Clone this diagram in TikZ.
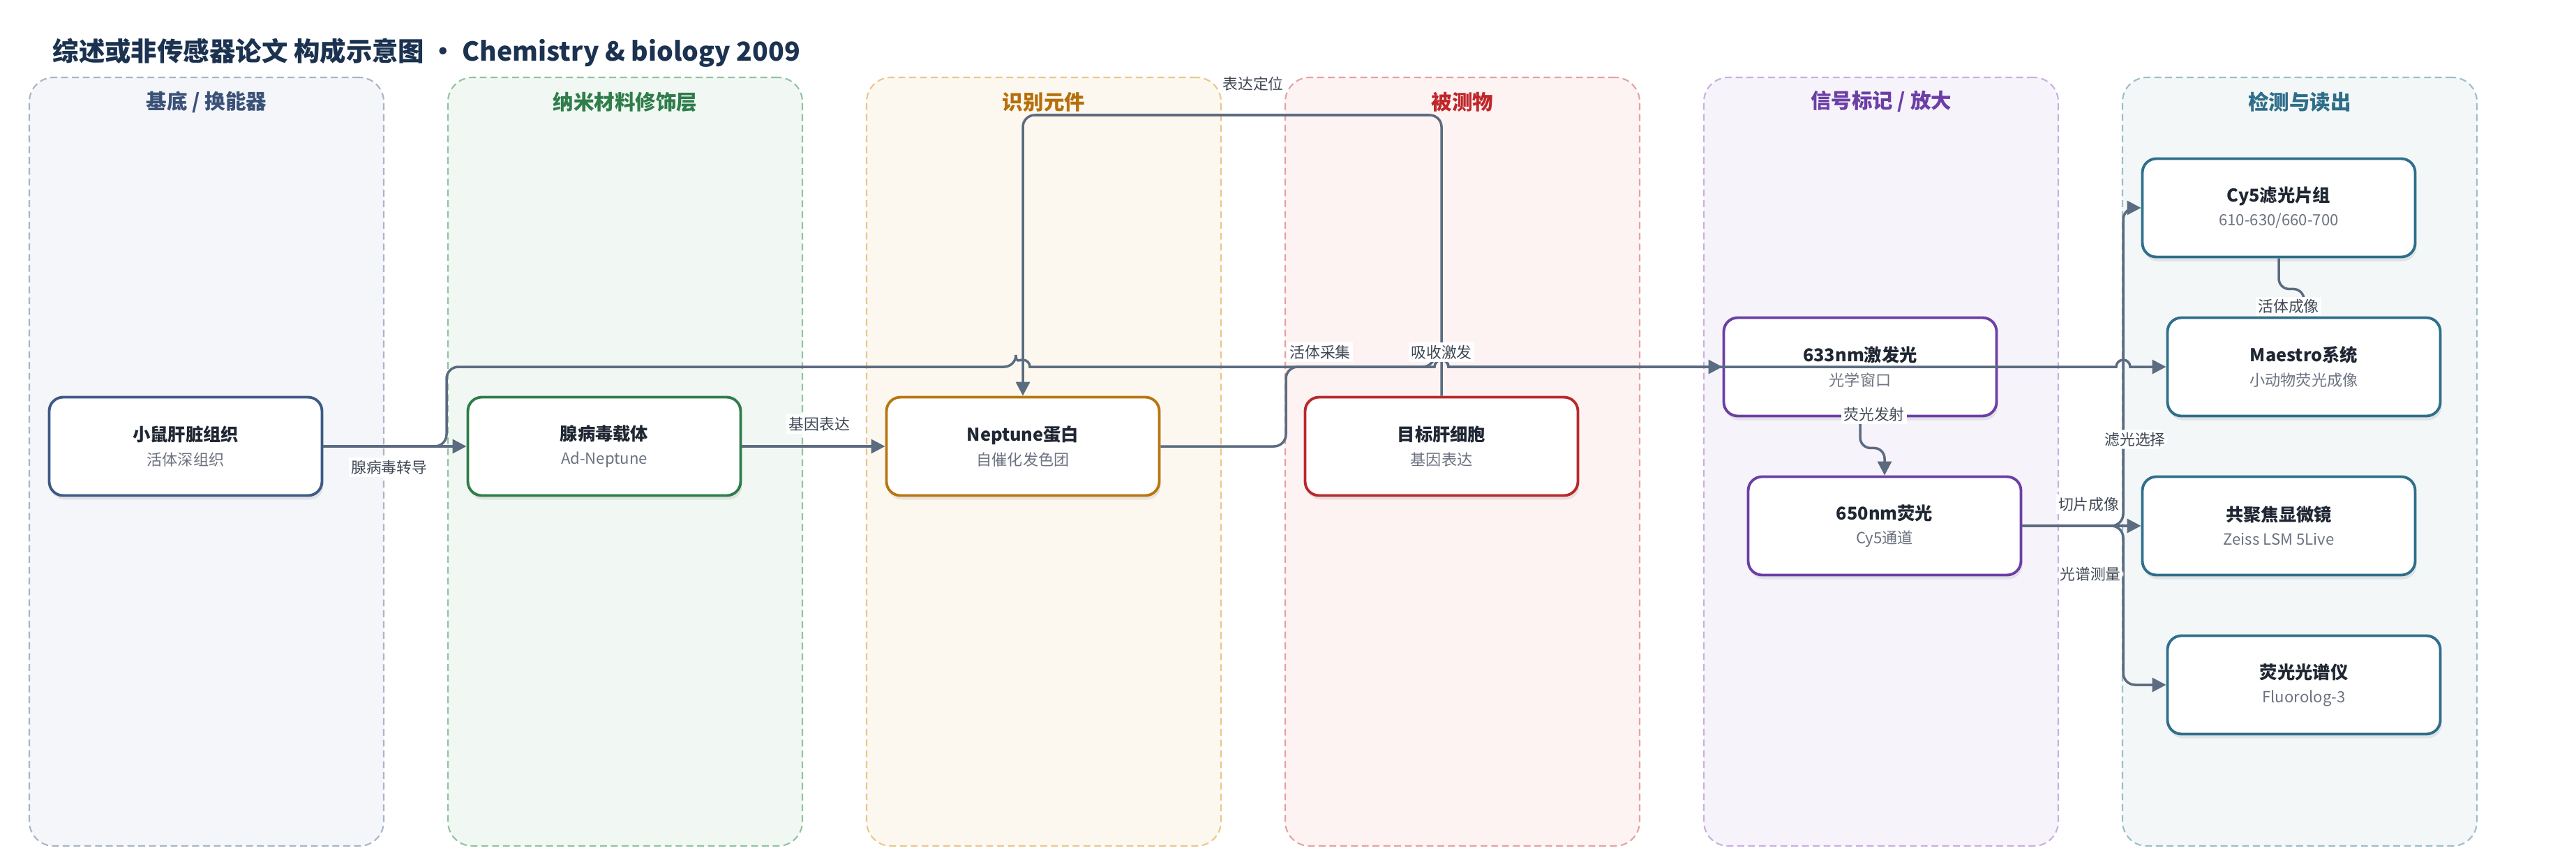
\documentclass[tikz,border=0pt]{standalone}
\usepackage{fontspec}
\setmainfont{Noto Sans CJK SC}
\usepackage{xcolor}
\usepackage{tikz}
\usetikzlibrary{positioning,calc,arrows.meta,shadows}

\definecolor{TitleNavy}{HTML}{1B3250}
\definecolor{InkMain}{HTML}{1F2733}
\definecolor{SubGray}{HTML}{6B7280}
\definecolor{LabelGray}{HTML}{3F4754}
\definecolor{FlowGray}{HTML}{5B6B80}
% mau cac cot
\definecolor{BaseFill}{HTML}{F4F6FA}\definecolor{BaseLine}{HTML}{A9B5C7}\definecolor{BaseText}{HTML}{3B5278}\definecolor{BaseEdge}{HTML}{3D5A85}
\definecolor{NanoFill}{HTML}{F1F8F3}\definecolor{NanoLine}{HTML}{92C3A2}\definecolor{NanoText}{HTML}{2F7D4B}\definecolor{NanoEdge}{HTML}{2E7D4A}
\definecolor{RecFill}{HTML}{FDF8EF}\definecolor{RecLine}{HTML}{E9C78E}\definecolor{RecText}{HTML}{B66F0B}\definecolor{RecEdge}{HTML}{B87612}
\definecolor{AnaFill}{HTML}{FDF3F2}\definecolor{AnaLine}{HTML}{E6A2A2}\definecolor{AnaText}{HTML}{BF272B}\definecolor{AnaEdge}{HTML}{B8292B}
\definecolor{SigFill}{HTML}{F7F3FB}\definecolor{SigLine}{HTML}{C8B0E0}\definecolor{SigText}{HTML}{6B3FA6}\definecolor{SigEdge}{HTML}{6C3FA6}
\definecolor{DetFill}{HTML}{F3F7F8}\definecolor{DetLine}{HTML}{9CBECB}\definecolor{DetText}{HTML}{2E6E89}\definecolor{DetEdge}{HTML}{2F6F8B}

\newcommand{\stagetext}[2]{\textbf{#1}\\{\fontsize{6.3}{9.7}\selectfont\color{SubGray}#2}}

\tikzset{
    stagebox/.style={rectangle, rounded corners=0.2cm, draw, fill=white, line width=1.1pt,
        minimum width=3.91cm, minimum height=1.41cm, inner sep=2pt, align=center,
        text=InkMain, font=\fontsize{7.2}{9.7}\selectfont,
        drop shadow={shadow xshift=0.02cm, shadow yshift=-0.06cm, opacity=0.16}},
    flow/.style={draw=FlowGray, line width=1pt, -{Triangle[length=0.2cm, width=0.2cm]}},
    flowlabel/.style={fill=white, inner sep=1pt, text=LabelGray, font=\fontsize{6.2}{7}\selectfont}
}

\begin{document}
\begin{tikzpicture}[
        % --- STYLE COT ---
        panel/.style={
            rectangle,
            rounded corners=0.35cm,
            line width=0.6pt,
            dash pattern=on 2.8pt off 1.6pt,
            minimum width=5.08cm,
            minimum height=11.02cm,
            inner sep=0pt
        },
        % tieu de cot
        paneltitle/.style={
            font=\fontsize{8.4}{10}\selectfont\bfseries
        }
    ]
    \useasboundingbox (0,0) rectangle (36.92,-12.35);

    % --- TIEU DE ---
    \node[anchor=west, inner sep=0pt, text=TitleNavy, font=\fontsize{10.65}{13}\selectfont\bfseries] (title)
        at (0.75,-0.76) {综述或非传感器论文 构成示意图 • Chemistry \& biology 2009};

    % --- CAC COT ---
    \foreach \i/\pc/\ptitle in {0/Base/{基底 / 换能器}, 1/Nano/纳米材料修饰层, 2/Rec/识别元件,
                                3/Ana/被测物, 4/Sig/{信号标记 / 放大}, 5/Det/检测与读出} {
        \node[panel, fill=\pc Fill, draw=\pc Line] (panel\i) at (2.96+6*\i,-6.62) {};
        \node[paneltitle, text=\pc Text] (ptitle\i) at (2.96+6*\i,-1.46) {\ptitle};
    }

    % --- CAC NUT ---
    \node[stagebox, draw=BaseEdge] (mouse) at (2.66,-6.40) {\stagetext{小鼠肝脏组织}{活体深组织}};
    \node[stagebox, draw=NanoEdge] (vector) at (8.66,-6.40) {\stagetext{腺病毒载体}{Ad-Neptune}};
    \node[stagebox, draw=RecEdge] (neptune) at (14.66,-6.40) {\stagetext{Neptune蛋白}{自催化发色团}};
    \node[stagebox, draw=AnaEdge] (target) at (20.66,-6.40) {\stagetext{目标肝细胞}{基因表达}};
    \node[stagebox, draw=SigEdge] (ex633) at (26.66,-5.26) {\stagetext{633nm激发光}{光学窗口}};
    \node[stagebox, draw=SigEdge] (fl650) at (27.01,-7.54) {\stagetext{650nm荧光}{Cy5通道}};
    \node[stagebox, draw=DetEdge] (cy5) at (32.66,-2.98) {\stagetext{Cy5滤光片组}{610-630/660-700}};
    \node[stagebox, draw=DetEdge] (maestro) at (33.02,-5.26) {\stagetext{Maestro系统}{小动物荧光成像}};
    \node[stagebox, draw=DetEdge] (confocal) at (32.66,-7.54) {\stagetext{共聚焦显微镜}{Zeiss LSM 5Live}};
    \node[stagebox, draw=DetEdge] (spectro) at (33.02,-9.82) {\stagetext{荧光光谱仪}{Fluorolog-3}};

    % diem re cua duong noi
    \coordinate (riseA) at (6.40,-5.26);
    \coordinate (riseB) at (18.43,-5.26);
    \coordinate (riseC) at (30.43,-7.54);
    \coordinate (topway) at (0,-1.65);

    % --- DUONG NOI ---
    % duong vong tren cung, ve truoc de cau nhay nam tren
    \draw[flow, rounded corners=0.17cm] (target.north) -- (target.north |- topway)
        -- (neptune.north |- topway) node[flowlabel, pos=0.45, yshift=0.45cm] (lbltop) {表达定位}
        -- (neptune.north);

    \draw[flow] (mouse.east) -- (vector.west)
        node[flowlabel, pos=0.46, yshift=-0.30cm] (lbltrans) {腺病毒转导};
    \draw[flow] (vector.east) -- (neptune.west)
        node[flowlabel, pos=0.54, yshift=0.32cm] (lblexpr) {基因表达};

    % duong dai qua cac cau nhay
    \draw[flow, rounded corners=0.17cm] (mouse.east) -| (riseA)
        -- ($(neptune.north |- riseA)+(-0.1,0)$) [sharp corners] arc[start angle=180, end angle=0, radius=0.1cm]
        -- ($(target.north |- riseA)+(-0.1,0)$) arc[start angle=180, end angle=0, radius=0.1cm]
        -- ($(riseC |- riseA)+(-0.1,0)$) arc[start angle=180, end angle=0, radius=0.1cm]
        -- (maestro.west);

    \draw[flow, rounded corners=0.17cm] (neptune.east) -| (riseB)
        -- ($(target.north |- riseB)+(-0.1,0)$) [sharp corners] arc[start angle=180, end angle=0, radius=0.1cm]
        -- (ex633.west);

    \draw[flow, rounded corners=0.15cm] (ex633.south) -- ++(0,-0.44) -| (fl650.north);
    \draw[flow, rounded corners=0.15cm] (cy5.south) -- ++(0,-0.44) -| (maestro.north);

    \draw[flow, rounded corners=0.17cm] (fl650.east) -- (riseC) |- (cy5.west)
        node[flowlabel, pos=0.136, xshift=0.17cm] (lblfilter) {滤光选择};
    \draw[flow] (fl650.east) -- (confocal.west)
        node[flowlabel, pos=0.56, yshift=0.31cm] (lblslice) {切片成像};
    \draw[flow, rounded corners=0.17cm] (fl650.east) -- (riseC)
        node[flowlabel, pos=0.676, yshift=-0.69cm] (lblspec) {光谱测量} |- (spectro.west);

    % nhan dat rieng, nam tren cung
    \node[flowlabel] (lblvivo) at ($(riseB)+(0.49,0.21)$) {活体采集};
    \node[flowlabel] (lblabs) at ($(target.north |- riseB)+(0,0.21)$) {吸收激发};
    \node[flowlabel] (lblemit) at ($(ex633.south)+(0.20,0.04)$) {荧光发射};
    \node[flowlabel] (lblimg) at ($(maestro.north)+(-0.22,0.14)$) {活体成像};

\end{tikzpicture}
\end{document}
